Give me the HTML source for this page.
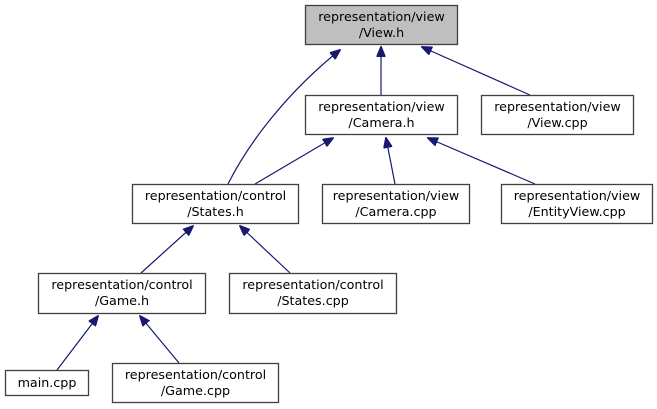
<!DOCTYPE html>
<html><head><style>
html,body{margin:0;padding:0;background:#fff;}
svg{display:block;}
text{font-family:"DejaVu Sans","Liberation Sans",sans-serif;font-size:12.7px;fill:#000;text-anchor:middle;}
rect{stroke:#404040;stroke-width:1.3;fill:#fff;}
path{stroke:#191970;stroke-width:1.2;fill:none;}
</style></head><body>
<svg width="657" height="409" viewBox="0 0 657 409" xmlns="http://www.w3.org/2000/svg">
<defs><marker id="a" markerWidth="11" markerHeight="9" refX="10" refY="4.5" orient="auto" markerUnits="userSpaceOnUse"><polygon points="0,0 11,4.5 0,9" fill="#191970" stroke="#191970"/></marker></defs>
<path d="M228,184 C250,140 290,90 340,50" marker-end="url(#a)"/>
<path d="M381,95 L381,47" marker-end="url(#a)"/>
<path d="M530,95 L422,47" marker-end="url(#a)"/>
<path d="M255,184 L333,138" marker-end="url(#a)"/>
<path d="M395,184 L386,138" marker-end="url(#a)"/>
<path d="M535,184 L428,138" marker-end="url(#a)"/>
<path d="M141,273 L193,226" marker-end="url(#a)"/>
<path d="M290,273 L240,226" marker-end="url(#a)"/>
<path d="M57,370 L98,316" marker-end="url(#a)"/>
<path d="M179,363 L140,316" marker-end="url(#a)"/>

<rect x="305.5" y="5.5" width="152" height="39" style="fill:#bfbfbf"/>
<text x="381.5" y="21">representation/view</text><text x="381.5" y="37">/View.h</text>

<rect x="305.5" y="95.5" width="152" height="39"/>
<text x="381.5" y="111">representation/view</text><text x="381.5" y="127">/Camera.h</text>

<rect x="481.5" y="95.5" width="152" height="39"/>
<text x="557.5" y="111">representation/view</text><text x="557.5" y="127">/View.cpp</text>

<rect x="132.5" y="184.5" width="166" height="39"/>
<text x="215.5" y="200">representation/control</text><text x="215.5" y="216">/States.h</text>

<rect x="322.5" y="184.5" width="147" height="39"/>
<text x="396" y="200">representation/view</text><text x="396" y="216">/Camera.cpp</text>

<rect x="501.5" y="184.5" width="151" height="39"/>
<text x="577" y="200">representation/view</text><text x="577" y="216">/EntityView.cpp</text>

<rect x="38.5" y="273.5" width="167" height="40"/>
<text x="122" y="289">representation/control</text><text x="122" y="305">/Game.h</text>

<rect x="229.5" y="273.5" width="167" height="40"/>
<text x="313" y="289">representation/control</text><text x="313" y="305">/States.cpp</text>

<rect x="5.5" y="370.5" width="83" height="25"/>
<text x="47" y="387">main.cpp</text>

<rect x="112.5" y="363.5" width="166" height="39"/>
<text x="195.5" y="379">representation/control</text><text x="195.5" y="395">/Game.cpp</text>
</svg>
</body></html>
